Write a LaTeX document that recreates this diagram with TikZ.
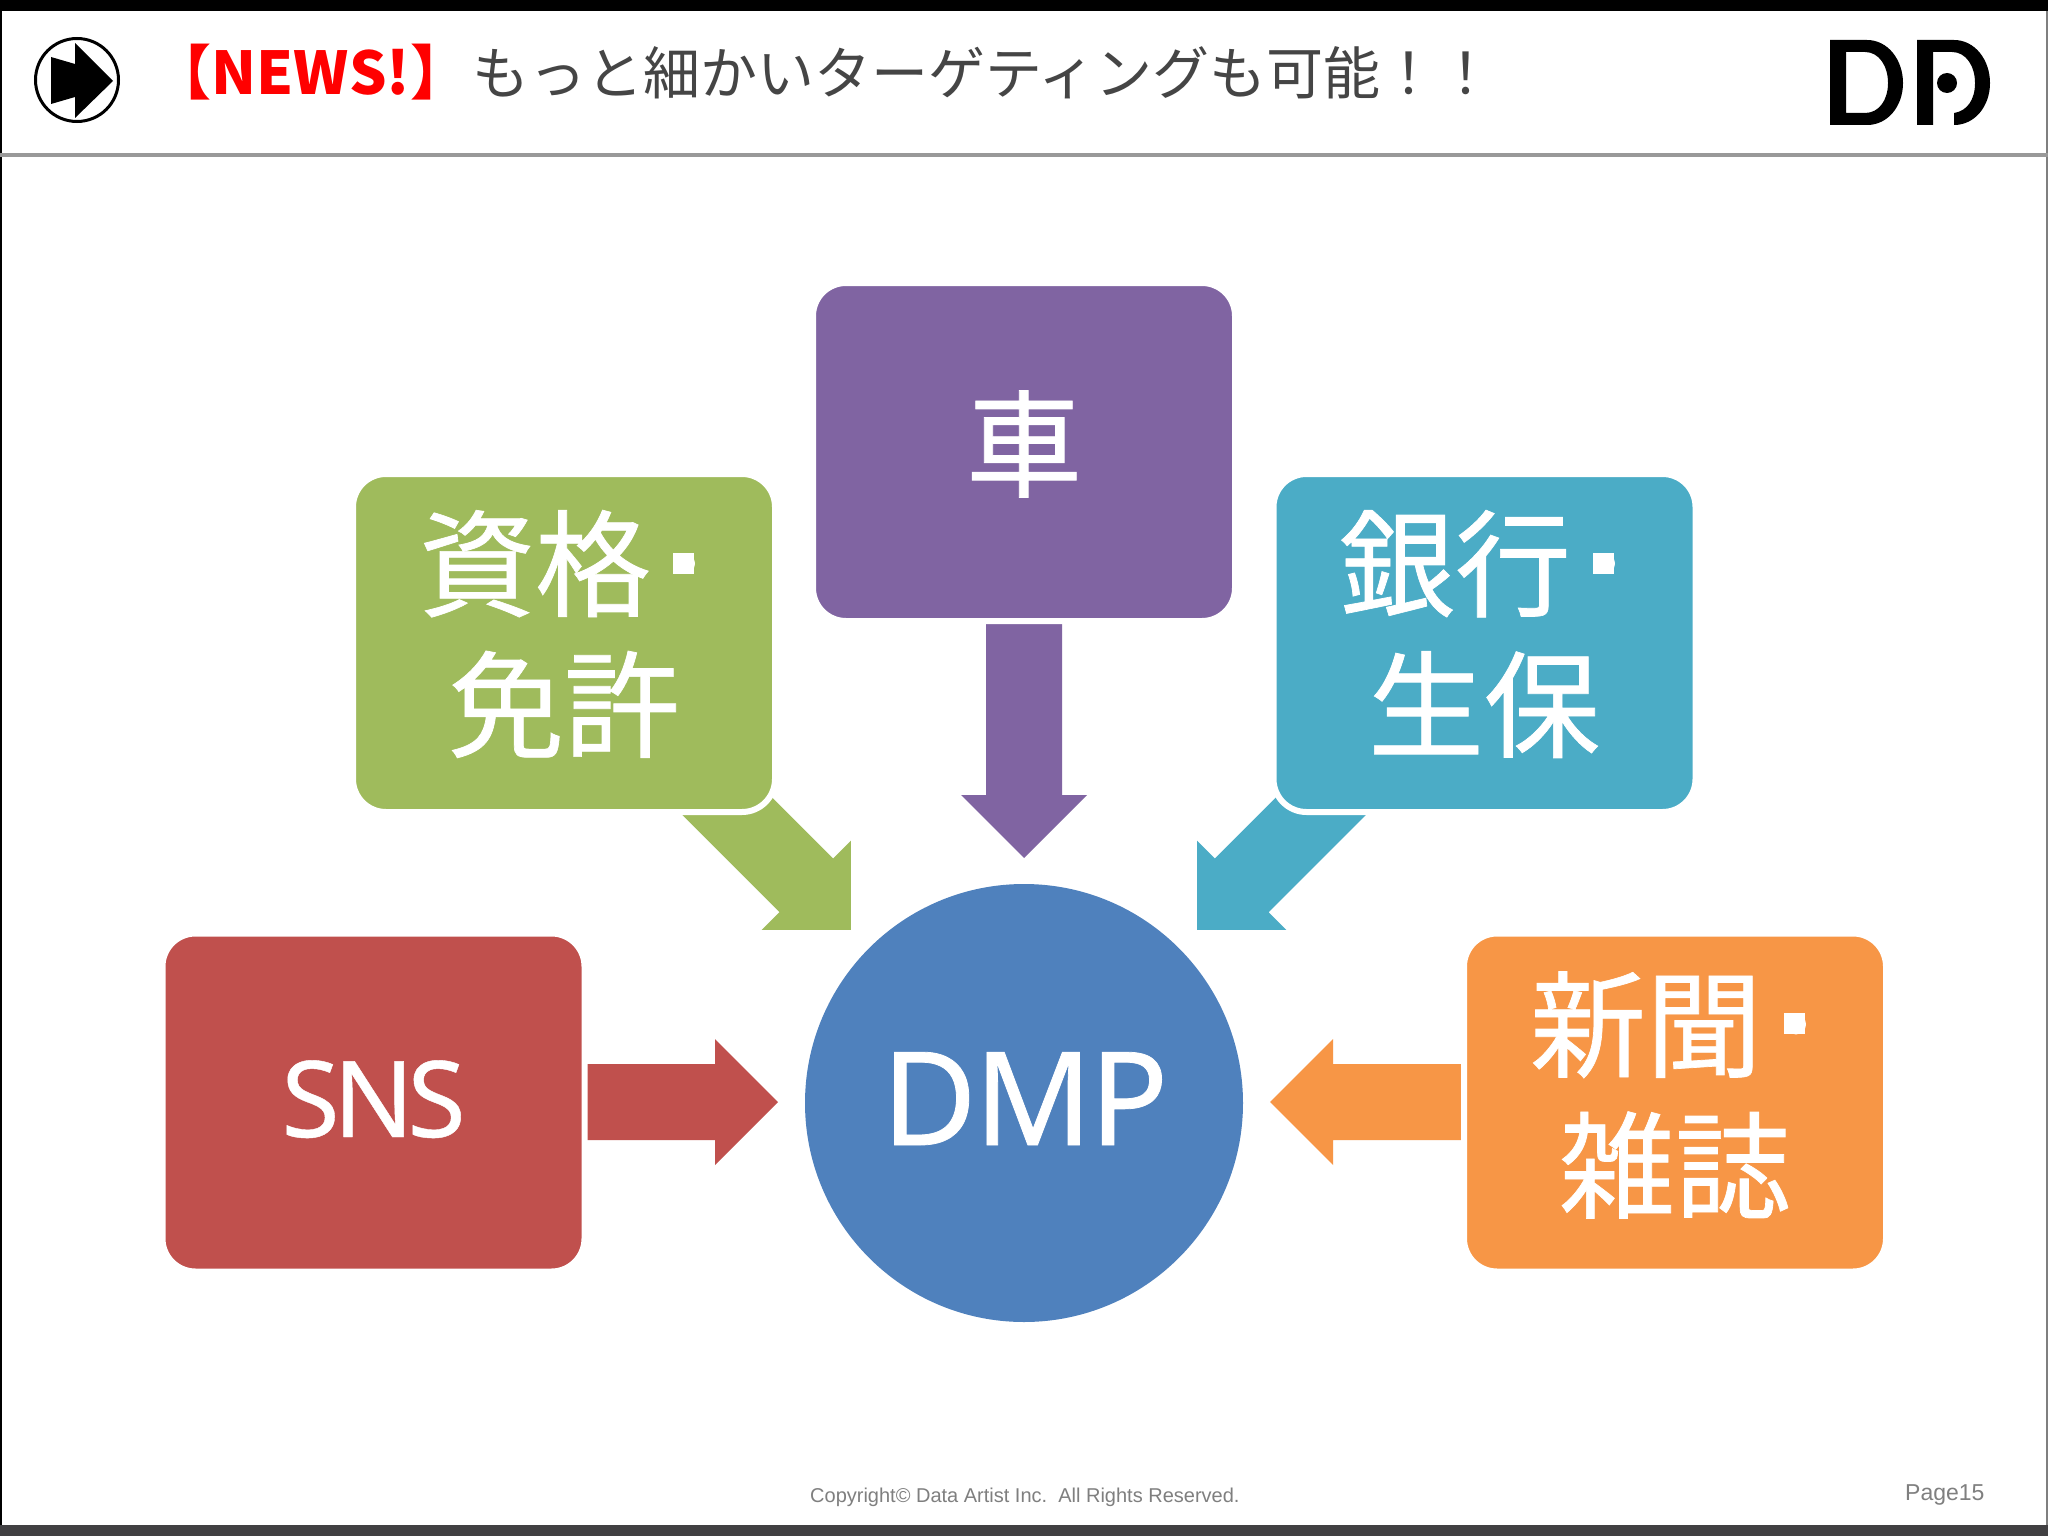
\documentclass[tikz,border=0pt]{standalone}
\usepackage{fontspec}
\setmainfont{Noto Sans}
\newfontfamily\cjk{Noto Sans CJK JP}
\newfontfamily\cjkheavy{Noto Sans CJK JP}[FakeBold=0.6]
\newfontfamily\dmpfont{Noto Sans}[FakeBold=0.6,LetterSpace=-2]
\newfontfamily\snsfont{Noto Sans}[FakeBold=0.4,LetterSpace=-6]
\newfontfamily\arialish{Liberation Sans}
\definecolor{cpurple}{HTML}{8064A2}
\definecolor{cgreen}{HTML}{9FBB5C}
\definecolor{cteal}{HTML}{4BACC6}
\definecolor{cred}{HTML}{C0504D}
\definecolor{corange}{HTML}{F79646}
\definecolor{cblue}{HTML}{4F81BD}
\definecolor{cbar}{HTML}{414042}
\definecolor{cfoot}{HTML}{7F7F7F}
\definecolor{ctitle}{HTML}{454545}
\newcommand{\sqdot}{\kern5pt･\kern-5pt\llap{\makebox[58pt]{\hspace{6pt}\raisebox{34pt}{\rule{21pt}{21pt}}}}}
\newcommand{\blockarrow}[4]{% colour, base, angle, length
  \begin{scope}[shift={(#2)},rotate=#3]
    \pgfmathsetlengthmacro{\hb}{(#4-63)*1pt}
    \pgfmathsetlengthmacro{\tp}{#4*1pt}
    \fill[#1] (0pt,38pt) -- (\hb,38pt) -- (\hb,63pt) -- (\tp,0pt)
      -- (\hb,-63pt) -- (\hb,-38pt) -- (0pt,-38pt) -- cycle;
  \end{scope}}
\tikzset{
  x=1pt,y=-1pt,
  srcbox/.style={rectangle,rounded corners=33pt,draw=white,line width=6pt,minimum width=422pt,minimum height=338pt,inner sep=0pt,outer sep=0pt},
  boxlabel/.style={text=white,align=center,inner sep=0pt,font=\cjkheavy\fontsize{116}{141}\selectfont},
  hub/.style={circle,fill=cblue,minimum size=438pt,inner sep=0pt,outer sep=0pt},
  latinlabel/.style={text=white,inner sep=0pt,anchor=base},
  foot/.style={text=cfoot,inner sep=0pt,anchor=base west},
}
\begin{document}
\begin{tikzpicture}
\useasboundingbox (0,0) rectangle (2048,1536);
\fill[white] (0,0) rectangle (2048,1536);
% frame
\fill[black] (0,0) rectangle (2048,11);
\fill[black] (0,11) rectangle (2,1525);
\fill[cfoot] (2046,11) rectangle (2048,1525);
\fill[cbar] (0,1525) rectangle (2048,1536);
\fill[black!40] (0,153) rectangle (2048,157);
% header icon
\node[circle,draw=black,line width=3pt,minimum size=83pt,inner sep=0pt] (icon) at (77,80) {};
\fill[black] (51,57) -- (75,64) -- (75,43) -- (113,81) -- (75,118) -- (75,97) -- (51,104) -- cycle;
% header text
\node[inner sep=0pt,text=red,font=\cjk\bfseries\fontsize{59}{59}\selectfont] (news) at (311,72) {【NEWS!】};
\node[inner sep=0pt,anchor=west,text=ctitle,font=\cjk\fontsize{57}{57}\selectfont] (title) at (472,73) {もっと細かいターゲティングも可能！！};
% logo
\fill[black,even odd rule] (1830,40) -- (1867,40) .. controls (1888,40) and (1903,60) .. (1903,83) .. controls (1903,106) and (1888,125) .. (1867,125) -- (1830,125) -- cycle
  (1846,52) -- (1865,52) .. controls (1879,52) and (1888,66) .. (1888,83) .. controls (1888,100) and (1879,113) .. (1865,113) -- (1846,113) -- cycle;
\fill[black] (1917,40) -- (1954,40) .. controls (1975,40) and (1990,60) .. (1990,83) .. controls (1990,106) and (1975,125) .. (1954,125) -- (1954,113) .. controls (1967,111) and (1975,100) .. (1975,83) .. controls (1975,66) and (1966,52) .. (1952,52) -- (1933,52) -- (1933,125) -- (1917,125) -- cycle;
\fill[black] (1947,83) circle (10pt);
% anchors of the block arrows
\coordinate (aPurple) at (1024,624);
\coordinate (aRed) at (587,1102);
\coordinate (aOrange) at (1461,1102);
\coordinate (aGreen) at (708,787);
\coordinate (aTeal) at (1340,787);
% arrows
\blockarrow{cpurple}{aPurple}{-90}{234}
\blockarrow{cred}{aRed}{0}{191}
\blockarrow{corange}{aOrange}{180}{191}
\blockarrow{cgreen}{aGreen}{-45}{202}
\blockarrow{cteal}{aTeal}{-135}{202}
% nodes
\node[hub] (dmp) at (1024,1103) {};
\node[srcbox,fill=cpurple] (car) at (1024,452) {};
\node[srcbox,fill=cgreen] (lic) at (564,643) {};
\node[srcbox,fill=cteal] (bank) at (1484.5,643) {};
\node[srcbox,fill=cred] (sns) at (373.5,1102.5) {};
\node[srcbox,fill=corange] (news2) at (1675,1102.5) {};
% labels
\node[latinlabel,font=\dmpfont\fontsize{130}{130}\selectfont] (tdmp) at (1025,1145) {DMP};
\node[latinlabel,font=\snsfont\fontsize{106}{106}\selectfont] (tsns) at (373.5,1137) {SNS};
\node[boxlabel] (tcar) at (1024,444) {車};
\node[boxlabel] (tlic) at (564,634) {資格\sqdot\\免許};
\node[boxlabel] (tbank) at (1484,634) {銀行\sqdot\\生保};
\node[boxlabel] (tnews) at (1675,1095) {新聞\sqdot\\雑誌};
% footer
\node[foot,font=\arialish\fontsize{20}{20}\selectfont] (copy) at (810,1502) {Copyright© Data Artist Inc.\ \ All Rights Reserved.};
\node[foot,font=\arialish\fontsize{23}{23}\selectfont] (page) at (1905,1500) {Page15};
\end{tikzpicture}
\end{document}
